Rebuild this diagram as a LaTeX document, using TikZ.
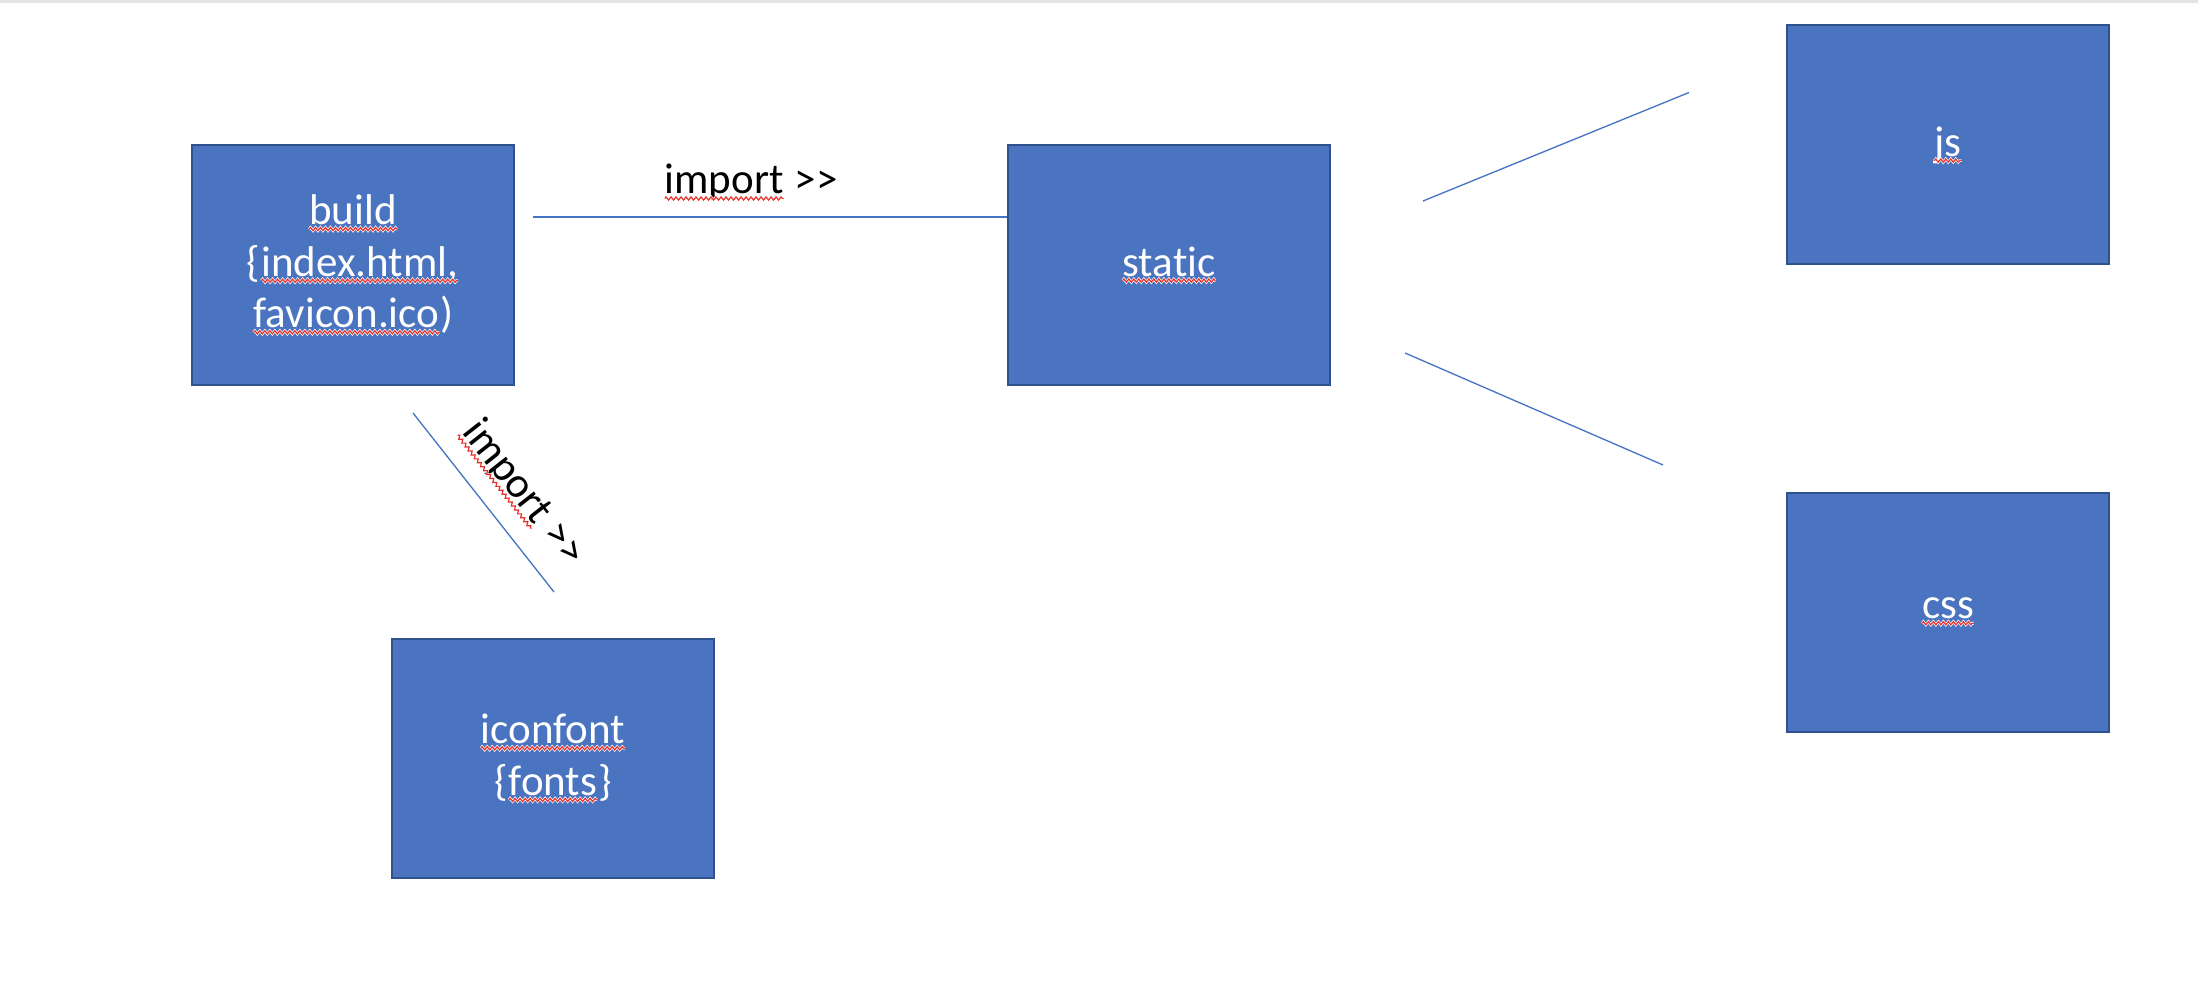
\documentclass[tikz,border=0pt]{standalone}
\usepackage{fontspec}
\setmainfont{Carlito}[Ligatures={TeXOff,NoCommon}]
\usetikzlibrary{decorations.pathmorphing}
\definecolor{boxfill}{HTML}{4A74BF}
\definecolor{boxline}{HTML}{2F528F}
\definecolor{conn}{HTML}{4472C4}
\definecolor{topbar}{HTML}{E3E3E3}
\definecolor{squig}{HTML}{E8302A}
\tikzset{
  zz/.style={decorate,decoration={zigzag,segment length=5pt,amplitude=1.6pt}},
  sqword/.style={inner sep=0pt,outer sep=0pt,draw=none,fill=none,minimum width=0pt,minimum height=0pt,
    anchor=center,rectangle},
}
\newcommand\sq[1]{\tikz[baseline=(sqw.base)]{\node[sqword](sqw){#1};%
\draw[white,line width=2.6pt,zz]([yshift=-4.5pt]sqw.base west)--([yshift=-4.5pt]sqw.base east);%
\draw[squig,line width=1.2pt,zz]([yshift=-4.5pt]sqw.base west)--([yshift=-4.5pt]sqw.base east);}}
\begin{document}
\begin{tikzpicture}[x=1pt,y=-1pt,
  box/.style={draw=boxline,line width=2pt,fill=boxfill,minimum width=322pt,minimum height=239pt,
    text=white,align=center,inner sep=0pt,font=\fontsize{43pt}{51.6pt}\selectfont},
  conline/.style={draw=conn,line width=1.5pt},
  lbl/.style={text=black,inner sep=0pt,font=\fontsize{43pt}{51.6pt}\selectfont}]
\useasboundingbox (0,0) rectangle (2198,1000);
\fill[white] (0,0) rectangle (2198,1000);
\fill[topbar] (0,0) rectangle (2198,3);
% boxes
\node[box] (build) at (353,265) {\sq{build}\\\{\sq{index.html,}\\\sq{favicon.ico})};
\node[box] (static) at (1169,265) {\sq{static}};
\node[box] (js) at (1948,145) {\sq{js}};
\node[box] (css) at (1948,612) {\sq{css}};
\node[box] (iconfont) at (553,758.5) {\sq{iconfont}\\\{\sq{fonts}\}};
% free ends of connectors
\coordinate (hs) at (533,217);
\coordinate (d1) at (413,413);
\coordinate (d2) at (554,592);
\coordinate (j1) at (1423,201);
\coordinate (j2) at (1689,92.5);
\coordinate (c1) at (1405,353);
\coordinate (c2) at (1663,465);
% connectors
\draw[conline] (hs) -- (hs -| static.west);
\draw[conline,line width=1.3pt] (d1) -- (d2);
\draw[conline,line width=1.3pt] (j1) -- (j2);
\draw[conline,line width=1.3pt] (c1) -- (c2);
% labels
\node[lbl,anchor=base] (lab1) at (750.5,194) {\sq{import} >>};
\node[lbl,rotate=-51.8] (lab2) at (523,493) {\sq{import} >>};
\end{tikzpicture}
\end{document}
